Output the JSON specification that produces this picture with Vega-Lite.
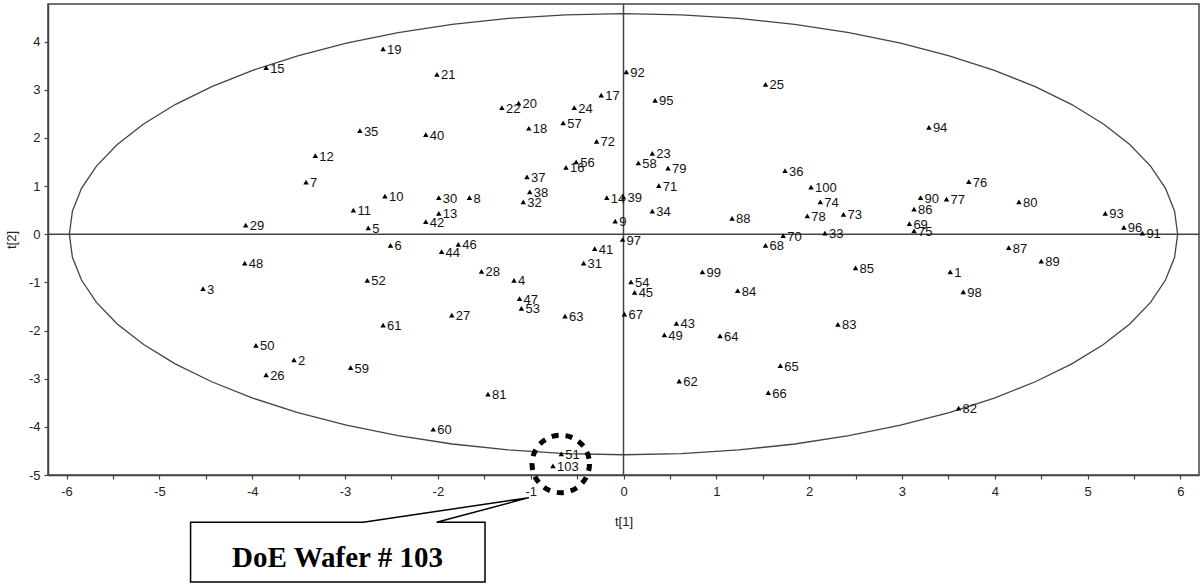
{
  "$schema": "https://vega.github.io/schema/vega-lite/v6.json",
  "width": 1151,
  "height": 471,
  "autosize": {"type": "none"},
  "padding": {"left": 48, "top": 4, "right": 3, "bottom": 109},
  "background": "white",
  "datasets": {
    "pts": [
      {"id": "1", "t1": 3.52, "t2": -0.78}, {"id": "2", "t1": -3.55, "t2": -2.61}, {"id": "3", "t1": -4.53, "t2": -1.13},
      {"id": "4", "t1": -1.18, "t2": -0.96}, {"id": "5", "t1": -2.75, "t2": 0.13}, {"id": "6", "t1": -2.51, "t2": -0.23},
      {"id": "7", "t1": -3.42, "t2": 1.08}, {"id": "8", "t1": -1.66, "t2": 0.76}, {"id": "9", "t1": -0.09, "t2": 0.27},
      {"id": "10", "t1": -2.57, "t2": 0.79}, {"id": "11", "t1": -2.91, "t2": 0.5}, {"id": "12", "t1": -3.32, "t2": 1.63},
      {"id": "13", "t1": -1.99, "t2": 0.43}, {"id": "14", "t1": -0.18, "t2": 0.76}, {"id": "15", "t1": -3.85, "t2": 3.46},
      {"id": "16", "t1": -0.62, "t2": 1.39}, {"id": "17", "t1": -0.24, "t2": 2.89}, {"id": "18", "t1": -1.02, "t2": 2.2},
      {"id": "19", "t1": -2.59, "t2": 3.85}, {"id": "20", "t1": -1.13, "t2": 2.72}, {"id": "21", "t1": -2.01, "t2": 3.32},
      {"id": "22", "t1": -1.31, "t2": 2.63}, {"id": "23", "t1": 0.31, "t2": 1.68}, {"id": "24", "t1": -0.53, "t2": 2.63},
      {"id": "25", "t1": 1.53, "t2": 3.11}, {"id": "26", "t1": -3.85, "t2": -2.92}, {"id": "27", "t1": -1.85, "t2": -1.68},
      {"id": "28", "t1": -1.53, "t2": -0.77}, {"id": "29", "t1": -4.07, "t2": 0.19}, {"id": "30", "t1": -1.99, "t2": 0.76},
      {"id": "31", "t1": -0.43, "t2": -0.6}, {"id": "32", "t1": -1.08, "t2": 0.67}, {"id": "33", "t1": 2.17, "t2": 0.02},
      {"id": "34", "t1": 0.31, "t2": 0.48}, {"id": "35", "t1": -2.84, "t2": 2.15}, {"id": "36", "t1": 1.74, "t2": 1.32},
      {"id": "37", "t1": -1.04, "t2": 1.19}, {"id": "38", "t1": -1.01, "t2": 0.88}, {"id": "39", "t1": 0.0, "t2": 0.77},
      {"id": "40", "t1": -2.13, "t2": 2.07}, {"id": "41", "t1": -0.31, "t2": -0.3}, {"id": "42", "t1": -2.13, "t2": 0.26},
      {"id": "43", "t1": 0.57, "t2": -1.85}, {"id": "44", "t1": -1.96, "t2": -0.36}, {"id": "45", "t1": 0.12, "t2": -1.21},
      {"id": "46", "t1": -1.78, "t2": -0.21}, {"id": "47", "t1": -1.12, "t2": -1.34}, {"id": "48", "t1": -4.08, "t2": -0.6},
      {"id": "49", "t1": 0.44, "t2": -2.09}, {"id": "50", "t1": -3.96, "t2": -2.31}, {"id": "51", "t1": -0.67, "t2": -4.56},
      {"id": "52", "t1": -2.76, "t2": -0.96}, {"id": "53", "t1": -1.1, "t2": -1.54}, {"id": "54", "t1": 0.08, "t2": -0.99},
      {"id": "56", "t1": -0.51, "t2": 1.5}, {"id": "57", "t1": -0.65, "t2": 2.31}, {"id": "58", "t1": 0.16, "t2": 1.48},
      {"id": "59", "t1": -2.94, "t2": -2.77}, {"id": "60", "t1": -2.05, "t2": -4.05}, {"id": "61", "t1": -2.59, "t2": -1.89},
      {"id": "62", "t1": 0.6, "t2": -3.05}, {"id": "63", "t1": -0.63, "t2": -1.7}, {"id": "64", "t1": 1.04, "t2": -2.11},
      {"id": "65", "t1": 1.69, "t2": -2.73}, {"id": "66", "t1": 1.56, "t2": -3.29}, {"id": "67", "t1": 0.01, "t2": -1.66},
      {"id": "68", "t1": 1.53, "t2": -0.23}, {"id": "69", "t1": 3.08, "t2": 0.22}, {"id": "70", "t1": 1.72, "t2": -0.03},
      {"id": "71", "t1": 0.38, "t2": 1.01}, {"id": "72", "t1": -0.29, "t2": 1.93}, {"id": "73", "t1": 2.37, "t2": 0.41},
      {"id": "74", "t1": 2.12, "t2": 0.67}, {"id": "75", "t1": 3.13, "t2": 0.07}, {"id": "76", "t1": 3.72, "t2": 1.09},
      {"id": "77", "t1": 3.48, "t2": 0.73}, {"id": "78", "t1": 1.98, "t2": 0.38}, {"id": "79", "t1": 0.48, "t2": 1.37},
      {"id": "80", "t1": 4.26, "t2": 0.67}, {"id": "81", "t1": -1.46, "t2": -3.32}, {"id": "82", "t1": 3.61, "t2": -3.61},
      {"id": "83", "t1": 2.31, "t2": -1.87}, {"id": "84", "t1": 1.23, "t2": -1.17}, {"id": "85", "t1": 2.5, "t2": -0.7},
      {"id": "86", "t1": 3.13, "t2": 0.52}, {"id": "87", "t1": 4.15, "t2": -0.28}, {"id": "88", "t1": 1.17, "t2": 0.33},
      {"id": "89", "t1": 4.5, "t2": -0.56}, {"id": "90", "t1": 3.2, "t2": 0.76}, {"id": "91", "t1": 5.59, "t2": 0.02},
      {"id": "92", "t1": 0.03, "t2": 3.37}, {"id": "93", "t1": 5.19, "t2": 0.43}, {"id": "94", "t1": 3.29, "t2": 2.22},
      {"id": "95", "t1": 0.34, "t2": 2.78}, {"id": "96", "t1": 5.39, "t2": 0.14}, {"id": "97", "t1": -0.01, "t2": -0.11},
      {"id": "98", "t1": 3.66, "t2": -1.2}, {"id": "99", "t1": 0.85, "t2": -0.78}, {"id": "100", "t1": 2.02, "t2": 0.98},
      {"id": "103", "t1": -0.76, "t2": -4.81}
    ],
    "ellipse": [
      {"i": 0, "t1": 5.97, "t2": 0}, {"i": 1, "t1": 5.937, "t2": 0.479}, {"i": 2, "t1": 5.839, "t2": 0.952},
      {"i": 3, "t1": 5.678, "t2": 1.415}, {"i": 4, "t1": 5.454, "t2": 1.863}, {"i": 5, "t1": 5.17, "t2": 2.29},
      {"i": 6, "t1": 4.83, "t2": 2.692}, {"i": 7, "t1": 4.436, "t2": 3.064}, {"i": 8, "t1": 3.995, "t2": 3.403},
      {"i": 9, "t1": 3.509, "t2": 3.705}, {"i": 10, "t1": 2.985, "t2": 3.966}, {"i": 11, "t1": 2.428, "t2": 4.184},
      {"i": 12, "t1": 1.845, "t2": 4.356}, {"i": 13, "t1": 1.241, "t2": 4.48}, {"i": 14, "t1": 0.624, "t2": 4.555},
      {"i": 15, "t1": 0, "t2": 4.58}, {"i": 16, "t1": -0.624, "t2": 4.555}, {"i": 17, "t1": -1.241, "t2": 4.48},
      {"i": 18, "t1": -1.845, "t2": 4.356}, {"i": 19, "t1": -2.428, "t2": 4.184}, {"i": 20, "t1": -2.985, "t2": 3.966},
      {"i": 21, "t1": -3.509, "t2": 3.705}, {"i": 22, "t1": -3.995, "t2": 3.403}, {"i": 23, "t1": -4.436, "t2": 3.064},
      {"i": 24, "t1": -4.83, "t2": 2.692}, {"i": 25, "t1": -5.17, "t2": 2.29}, {"i": 26, "t1": -5.454, "t2": 1.863},
      {"i": 27, "t1": -5.678, "t2": 1.415}, {"i": 28, "t1": -5.839, "t2": 0.952}, {"i": 29, "t1": -5.937, "t2": 0.479},
      {"i": 30, "t1": -5.97, "t2": 0}, {"i": 31, "t1": -5.937, "t2": -0.479}, {"i": 32, "t1": -5.839, "t2": -0.952},
      {"i": 33, "t1": -5.678, "t2": -1.415}, {"i": 34, "t1": -5.454, "t2": -1.863}, {"i": 35, "t1": -5.17, "t2": -2.29},
      {"i": 36, "t1": -4.83, "t2": -2.692}, {"i": 37, "t1": -4.436, "t2": -3.064}, {"i": 38, "t1": -3.995, "t2": -3.403},
      {"i": 39, "t1": -3.509, "t2": -3.705}, {"i": 40, "t1": -2.985, "t2": -3.966}, {"i": 41, "t1": -2.428, "t2": -4.184},
      {"i": 42, "t1": -1.845, "t2": -4.356}, {"i": 43, "t1": -1.241, "t2": -4.48}, {"i": 44, "t1": -0.624, "t2": -4.555},
      {"i": 45, "t1": 0, "t2": -4.58}, {"i": 46, "t1": 0.624, "t2": -4.555}, {"i": 47, "t1": 1.241, "t2": -4.48},
      {"i": 48, "t1": 1.845, "t2": -4.356}, {"i": 49, "t1": 2.428, "t2": -4.184}, {"i": 50, "t1": 2.985, "t2": -3.966},
      {"i": 51, "t1": 3.509, "t2": -3.705}, {"i": 52, "t1": 3.995, "t2": -3.403}, {"i": 53, "t1": 4.436, "t2": -3.064},
      {"i": 54, "t1": 4.83, "t2": -2.692}, {"i": 55, "t1": 5.17, "t2": -2.29}, {"i": 56, "t1": 5.454, "t2": -1.863},
      {"i": 57, "t1": 5.678, "t2": -1.415}, {"i": 58, "t1": 5.839, "t2": -0.952}, {"i": 59, "t1": 5.937, "t2": -0.479},
      {"i": 60, "t1": 5.97, "t2": 0}
    ],
    "callout": [
      {"i": 0, "t1": -2.804, "t2": -5.983}, {"i": 1, "t1": -4.664, "t2": -5.983}, {"i": 2, "t1": -4.664, "t2": -7.22},
      {"i": 3, "t1": -1.492, "t2": -7.22}, {"i": 4, "t1": -1.492, "t2": -5.983}, {"i": 5, "t1": -2.013, "t2": -5.983},
      {"i": 6, "t1": -1.02, "t2": -5.47}, {"i": 7, "t1": -2.804, "t2": -5.983}
    ]
  },
  "config": {
    "view": {"stroke": "#444444", "strokeWidth": 1.5},
    "axis": {
      "grid": false,
      "domainColor": "#444444",
      "domainWidth": 1.5,
      "tickColor": "#444444",
      "tickWidth": 1.2,
      "tickSize": 4,
      "labelFont": "Liberation Sans, Arial, sans-serif",
      "labelFontSize": 13,
      "labelColor": "#222222",
      "titleFont": "Liberation Sans, Arial, sans-serif",
      "titleFontSize": 13,
      "titleFontWeight": "normal",
      "titleColor": "#222222"
    }
  },
  "layer": [
    {
      "data": {"name": "ellipse"},
      "mark": {"type": "line", "color": "#444444", "strokeWidth": 1.3},
      "encoding": {
        "x": {
          "field": "t1", "type": "quantitative",
          "scale": {"domain": [-6.2, 6.2], "nice": false, "zero": false},
          "axis": {
            "title": "t[1]",
            "values": [-6, -5.5, -5, -4.5, -4, -3.5, -3, -2.5, -2, -1.5, -1, -0.5, 0, 0.5, 1, 1.5, 2, 2.5, 3, 3.5, 4, 4.5, 5, 5.5, 6],
            "labelExpr": "datum.value % 1 === 0 ? '' + datum.value : ''",
            "labelPadding": 6,
            "titlePadding": 17
          }
        },
        "y": {
          "field": "t2", "type": "quantitative",
          "scale": {"domain": [-5, 4.78], "nice": false, "zero": false},
          "axis": {
            "title": "t[2]",
            "values": [-5, -4.5, -4, -3.5, -3, -2.5, -2, -1.5, -1, -0.5, 0, 0.5, 1, 1.5, 2, 2.5, 3, 3.5, 4, 4.5],
            "labelExpr": "datum.value % 1 === 0 ? '' + datum.value : ''",
            "labelPadding": 4,
            "titlePadding": 10
          }
        },
        "order": {"field": "i", "type": "quantitative"}
      }
    },
    {
      "data": {"values": [{"t1": 0}]},
      "mark": {"type": "rule", "color": "#444444", "strokeWidth": 1.5},
      "encoding": {
        "x": {"field": "t1", "type": "quantitative", "scale": {"domain": [-6.2, 6.2], "nice": false, "zero": false}}
      }
    },
    {
      "data": {"values": [{"t2": 0}]},
      "mark": {"type": "rule", "color": "#444444", "strokeWidth": 1.5},
      "encoding": {
        "y": {"field": "t2", "type": "quantitative", "scale": {"domain": [-5, 4.78], "nice": false, "zero": false}}
      }
    },
    {
      "data": {"name": "pts"},
      "mark": {"type": "point", "shape": "triangle-up", "filled": true, "color": "black", "size": 30, "opacity": 1},
      "encoding": {
        "x": {"field": "t1", "type": "quantitative", "scale": {"domain": [-6.2, 6.2], "nice": false, "zero": false}},
        "y": {"field": "t2", "type": "quantitative", "scale": {"domain": [-5, 4.78], "nice": false, "zero": false}}
      }
    },
    {
      "data": {"name": "pts"},
      "mark": {"type": "text", "align": "left", "baseline": "middle", "dx": 4, "dy": 1, "fontSize": 13, "font": "Liberation Sans, Arial, sans-serif", "color": "#111111"},
      "encoding": {
        "x": {"field": "t1", "type": "quantitative", "scale": {"domain": [-6.2, 6.2], "nice": false, "zero": false}},
        "y": {"field": "t2", "type": "quantitative", "scale": {"domain": [-5, 4.78], "nice": false, "zero": false}},
        "text": {"field": "id"}
      }
    },
    {
      "data": {"values": [{"t1": -0.676, "t2": -4.77}]},
      "mark": {"type": "point", "shape": "circle", "filled": false, "color": "black", "size": 3300, "strokeWidth": 5, "strokeDash": [7, 7], "opacity": 1},
      "encoding": {
        "x": {"field": "t1", "type": "quantitative", "scale": {"domain": [-6.2, 6.2], "nice": false, "zero": false}},
        "y": {"field": "t2", "type": "quantitative", "scale": {"domain": [-5, 4.78], "nice": false, "zero": false}}
      }
    },
    {
      "data": {"name": "callout"},
      "mark": {"type": "line", "color": "black", "strokeWidth": 1.5},
      "encoding": {
        "x": {"field": "t1", "type": "quantitative", "scale": {"domain": [-6.2, 6.2], "nice": false, "zero": false}},
        "y": {"field": "t2", "type": "quantitative", "scale": {"domain": [-5, 4.78], "nice": false, "zero": false}},
        "order": {"field": "i", "type": "quantitative"}
      }
    },
    {
      "data": {"values": [{"t1": -3.081, "t2": -6.911, "label": "DoE Wafer # 103"}]},
      "mark": {"type": "text", "align": "center", "baseline": "alphabetic", "font": "Liberation Serif, Times New Roman, serif", "fontWeight": "bold", "fontSize": 29, "color": "black"},
      "encoding": {
        "x": {"field": "t1", "type": "quantitative", "scale": {"domain": [-6.2, 6.2], "nice": false, "zero": false}},
        "y": {"field": "t2", "type": "quantitative", "scale": {"domain": [-5, 4.78], "nice": false, "zero": false}},
        "text": {"field": "label"}
      }
    }
  ]
}
